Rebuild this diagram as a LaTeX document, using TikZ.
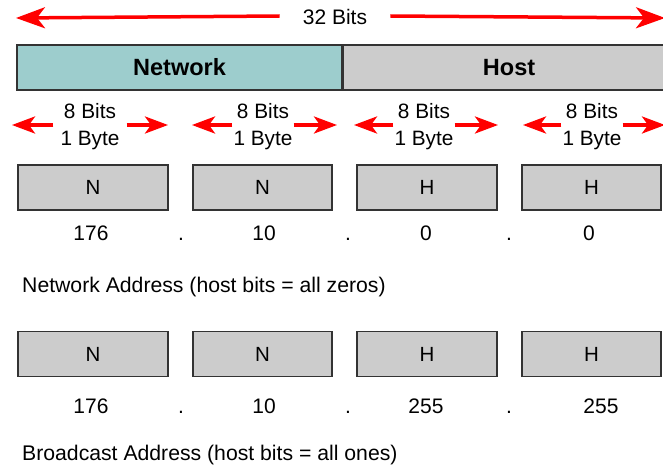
\documentclass[tikz,border=0pt]{standalone}
\usepackage{fontspec}
\setmainfont{Liberation Sans}
\usetikzlibrary{arrows.meta,positioning}
\definecolor{netteal}{HTML}{9DCDCD}
\definecolor{hostgray}{HTML}{CCCCCC}
\definecolor{edgegray}{HTML}{333333}
\colorlet{spanred}{red}

\begin{document}
\begin{tikzpicture}[x=1pt,y=-1pt]
          \tikzstyle{field}=[draw=edgegray,line width=1.6pt,minimum height=45pt,inner sep=0pt,font=\fontsize{23.5}{27}\selectfont\bfseries]
          \tikzstyle{octet}=[draw=edgegray,line width=1.5pt,fill=hostgray,minimum height=45pt,inner sep=0pt,font=\fontsize{20.5}{24}\selectfont]
          \tikzstyle{span}=[-{Stealth[length=29pt,width=21pt,inset=8pt]},line width=3.5pt,spanred]
          \tikzstyle{bytespan}=[-{Stealth[length=23pt,width=17pt,inset=6pt]},line width=3.5pt,spanred]
          \tikzstyle{lbl}=[font=\fontsize{20.8}{27}\selectfont,inner sep=0pt,align=center]
          \tikzstyle{num}=[font=\fontsize{21}{24}\selectfont,inner sep=0pt,anchor=base]
          \tikzstyle{caption}=[font=\fontsize{21.2}{24}\selectfont,inner sep=0pt,anchor=base west]
          \useasboundingbox (0,0) rectangle (663,468);
          % 32 bit span
          \node[font=\fontsize{21}{24}\selectfont,inner ysep=0pt,inner xsep=23pt] (total) at (335,17) {32 Bits};
          \coordinate (totalL) at (16,18);
          \coordinate (totalR) at (665,18);
          \draw[span] ([yshift=1pt]total.west) -- (totalL);
          \draw[span] ([yshift=1pt]total.east) -- (totalR);
          % network / host bar
          \node[field,fill=netteal,minimum width=325pt] (net) at (179.5,67.5) {Network};
          \node[field,fill=hostgray,minimum width=331pt,right=0pt of net] (host) {Host};
          % byte spans
          \foreach \i/\cx/\gap/\lt/\rt in {1/90/7/12/168, 2/263/1/192/337, 3/424/1/354/498, 4/592/1/523/665}{
            \node[lbl] (bits\i) at (\cx,127) {8 Bits\\1 Byte};
            \coordinate (bitsL\i) at (\lt,125);
            \coordinate (bitsR\i) at (\rt,125);
            \draw[bytespan] ([xshift=-\gap pt]bits\i.west|-bitsL\i) -- (bitsL\i);
            \draw[bytespan] ([xshift=\gap pt]bits\i.east|-bitsR\i) -- (bitsR\i);
          }
          % octet rows
          \foreach \r/\cy/\ny/\ca/\cb/\cc/\cd/\dx in {a/187.5/240.5/176/10/0/0/589, b/354/413/176/10/255/255/601}{
            \node[octet,minimum width=150pt] (\r1) at (93,\cy) {N};
            \node[octet,minimum width=139pt] (\r2) at (262.5,\cy) {N};
            \node[octet,minimum width=140pt] (\r3) at (427,\cy) {H};
            \node[octet,minimum width=139pt] (\r4) at (591.5,\cy) {H};
            \node[num] (\r n1) at (91,\ny) {\ca};
            \node[num] (\r n2) at (264,\ny) {\cb};
            \node[num] (\r n3) at (426,\ny) {\cc};
            \node[num] (\r n4) at (\dx,\ny) {\cd};
            \node[num] (\r d1) at (181,\ny) {.};
            \node[num] (\r d2) at (348,\ny) {.};
            \node[num] (\r d3) at (509,\ny) {.};
          }
          % captions
          \node[caption] (netaddr) at (22,292) {Network Address (host bits = all zeros)};
          \node[caption] (bcaddr) at (22,460) {Broadcast Address (host bits = all ones)};
        \end{tikzpicture}
\end{document}
